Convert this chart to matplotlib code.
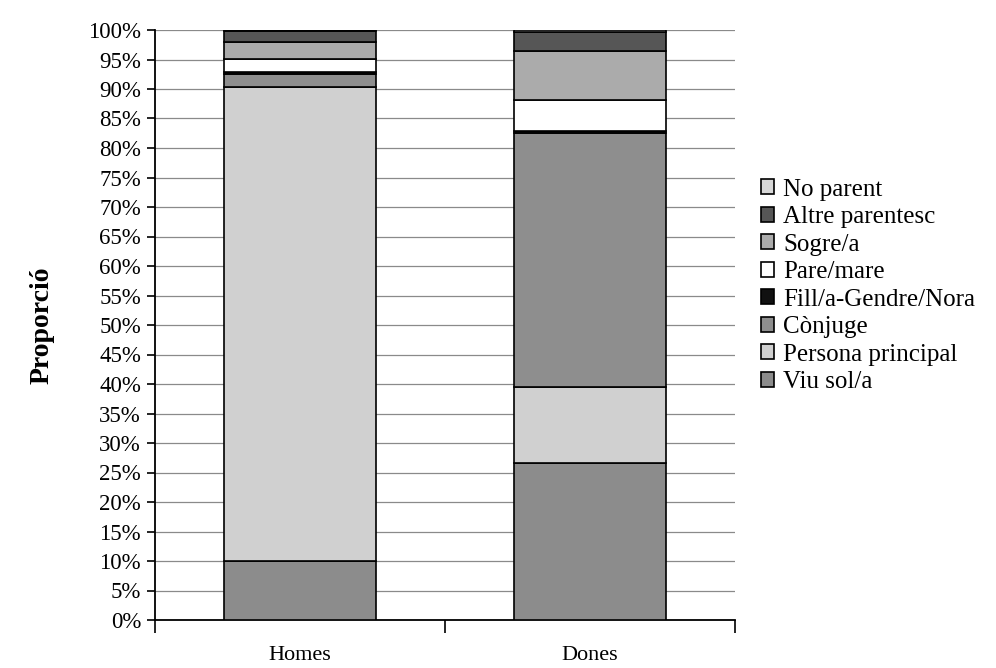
import matplotlib.pyplot as plt
from matplotlib.ticker import FixedLocator, NullFormatter

plt.rcParams['font.family'] = ['Liberation Serif', 'DejaVu Serif']

groups = ['Homes', 'Dones']
# stacked from bottom to top, percentages
categories = ['Viu sol/a', 'Persona principal', 'Cònjuge', 'Fill/a-Gendre/Nora',
              'Pare/mare', 'Sogre/a', 'Altre parentesc', 'No parent']
homes = [10.0, 80.3, 2.2, 0.3, 2.3, 2.9, 1.8, 0.2]
dones = [26.6, 12.9, 43.0, 0.4, 5.3, 8.3, 3.1, 0.4]
colors = ['#8c8c8c', '#d0d0d0', '#8e8e8e', '#111111',
          '#ffffff', '#ababab', '#565656', '#d8d8d8']

fig = plt.figure(figsize=(9.96, 6.68), dpi=100)
ax = fig.add_axes([155/996, 1-620/668, 580/996, 590/668])

x = [0, 1]
bottom = [0, 0]
handles = []
for cat, h, d, col in zip(categories, homes, dones, colors):
    b = ax.bar(x, [h, d], width=0.525, bottom=bottom, color=col,
               edgecolor='black', linewidth=1.2, label=cat, zorder=3)
    handles.append(b)
    bottom = [bottom[0] + h, bottom[1] + d]

ax.set_xlim(-0.5, 1.5)
ax.set_ylim(0, 100)
ax.set_yticks(range(0, 101, 5))
ax.set_yticklabels([f'{v}%' for v in range(0, 101, 5)], fontsize=16.5)
ax.grid(axis='y', color='#8a8a8a', linewidth=0.9, zorder=0)

ax.xaxis.set_major_locator(FixedLocator([-0.5, 0.5, 1.5]))
ax.xaxis.set_major_formatter(NullFormatter())
ax.xaxis.set_minor_locator(FixedLocator(x))
ax.set_xticklabels(groups, minor=True, fontsize=16)
ax.tick_params(axis='x', which='minor', length=0, pad=19)
ax.tick_params(axis='x', which='major', length=9, width=1.2)
ax.tick_params(axis='y', length=6, width=1.2, pad=4)

for s in ['top', 'right']:
    ax.spines[s].set_visible(False)
ax.spines['left'].set_linewidth(1.3)
ax.spines['bottom'].set_linewidth(1.3)

ax.set_ylabel('Proporció', fontsize=20, fontweight='bold', labelpad=24)

leg = fig.legend(handles[::-1], categories[::-1], loc='center left',
                 bbox_to_anchor=(738/996, 1-286/668), frameon=False,
                 fontsize=18, handlelength=0.55, handleheight=0.55,
                 handletextpad=0.35, labelspacing=0.22)

fig.savefig('out.png', dpi=100)
